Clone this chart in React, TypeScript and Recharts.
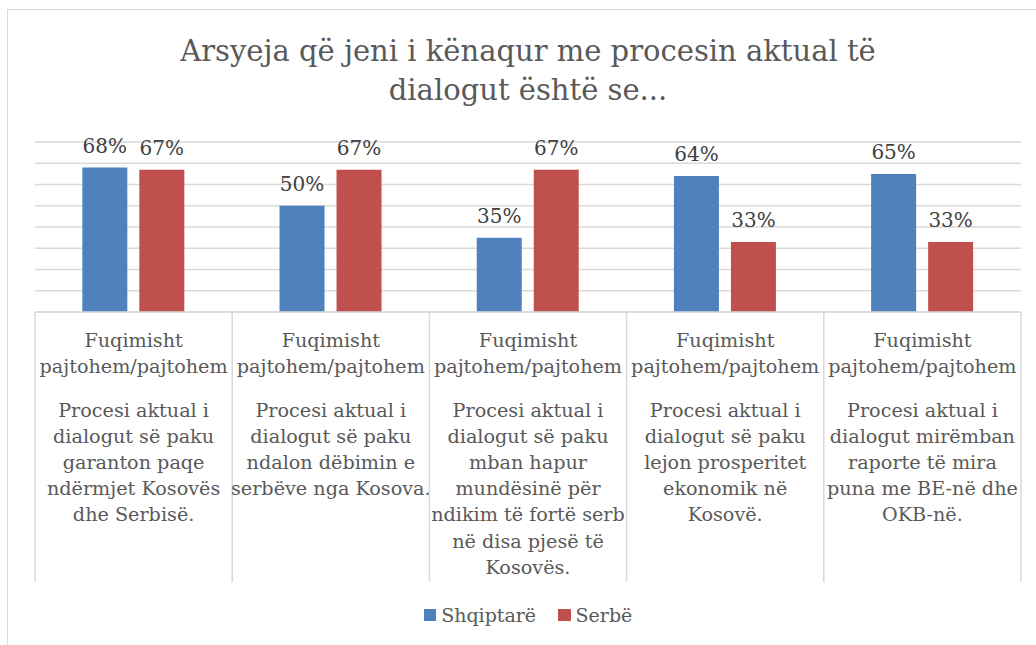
import React from 'react';
import { BarChart, Bar, XAxis, YAxis, CartesianGrid, Legend, LabelList } from 'recharts';

const innerLabel = ['Fuqimisht', 'pajtohem/pajtohem'];

const statements = [
  ['Procesi aktual i', 'dialogut së paku', 'garanton paqe', 'ndërmjet Kosovës', 'dhe Serbisë.'],
  ['Procesi aktual i', 'dialogut së paku', 'ndalon dëbimin e', 'serbëve nga Kosova.'],
  ['Procesi aktual i', 'dialogut së paku', 'mban hapur', 'mundësinë për', 'ndikim të fortë serb', 'në disa pjesë të', 'Kosovës.'],
  ['Procesi aktual i', 'dialogut së paku', 'lejon prosperitet', 'ekonomik në', 'Kosovë.'],
  ['Procesi aktual i', 'dialogut mirëmban', 'raporte të mira', 'puna me BE-në dhe', 'OKB-në.'],
];

const shqiptare = [68, 50, 35, 64, 65];
const serbe = [67, 67, 67, 33, 33];
const yTicks = [0, 10, 20, 30, 40, 50, 60, 70, 80];

const categories = statements.map((s) => s.join(' '));
const data = categories.map((c, i) => ({ category: c, shqiptare: shqiptare[i], serbe: serbe[i] }));

const W = 1036;
const H = 645;
const MARGIN = { top: 142, right: 15, bottom: 0, left: 35 };
const AXIS_H = 270;
const BAND = (W - MARGIN.left - MARGIN.right) / categories.length;
const FONT = '"DejaVu Serif", serif';
const GRID = '#d9d9d9';

const CategoryTick = (props: any) => {
  const { x, y, payload } = props;
  const idx = categories.indexOf(payload.value);
  const lines = statements[idx] || [];
  const half = BAND / 2;
  return (
    <g>
      <line x1={x - half} y1={y} x2={x - half} y2={y + AXIS_H} stroke={GRID} strokeWidth={1.5} />
      {idx === categories.length - 1 && (
        <line x1={x + half} y1={y} x2={x + half} y2={y + AXIS_H} stroke={GRID} strokeWidth={1.5} />
      )}
      <text textAnchor="middle" fontFamily={FONT} fontSize={19.2} fill="#595959">
        {innerLabel.map((l, i) => (
          <tspan key={'i' + i} x={x} y={y + 35 + i * 26.3}>{l}</tspan>
        ))}
        {lines.map((l, i) => (
          <tspan key={'s' + i} x={x} y={y + 104.5 + i * 26.2}>{l}</tspan>
        ))}
      </text>
    </g>
  );
};

const LegendContent = () => (
  <div style={{ height: 63, display: 'flex', justifyContent: 'center', alignItems: 'flex-start', paddingTop: 21, boxSizing: 'border-box', fontFamily: FONT, fontSize: 19, color: '#595959', lineHeight: '24px' }}>
    {[{ name: 'Shqiptarë', color: '#4F81BD' }, { name: 'Serbë', color: '#C0504D' }].map((it, i) => (
      <span key={it.name} style={{ display: 'flex', alignItems: 'center', marginLeft: i ? 22 : 0, fontFamily: FONT }}>
        <span style={{ width: 12.5, height: 12.5, background: it.color, display: 'inline-block', marginRight: 5 }} />
        {it.name}
      </span>
    ))}
  </div>
);

export default function App() {
  return (
    <div style={{ position: 'absolute', left: 0, top: 0, width: W, height: H, background: '#fff' }}>
      <div style={{ position: 'absolute', left: 7, top: 9, right: 0, bottom: 0, borderTop: `1.5px solid ${GRID}`, borderLeft: `1.5px solid ${GRID}` }} />
      <div style={{ position: 'absolute', left: MARGIN.left, width: W - MARGIN.left - MARGIN.right, top: 31.5, textAlign: 'center', fontFamily: FONT, fontSize: 29, lineHeight: '39px', color: '#595959' }}>
        Arsyeja që jeni i kënaqur me procesin aktual të<br />dialogut është se...
      </div>
      <BarChart width={W} height={H} data={data} margin={MARGIN} barCategoryGap="24%" barGap={12} style={{ position: 'absolute', left: 0, top: 0 }}>
        <CartesianGrid vertical={false} stroke={GRID} strokeWidth={1.5} />
        <YAxis hide domain={[0, 80]} ticks={yTicks} interval={0} />
        <XAxis dataKey="category" interval={0} height={AXIS_H} tickLine={false} tickSize={0} tickMargin={0} axisLine={{ stroke: GRID, strokeWidth: 1.5 }} tick={<CategoryTick />} />
        <Legend verticalAlign="bottom" content={<LegendContent />} />
        <Bar dataKey="shqiptare" name="Shqiptarë" fill="#4F81BD" isAnimationActive={false}>
          <LabelList dataKey="shqiptare" position="top" offset={15} formatter={(v: any) => `${v}%`} fontFamily={FONT} fontSize={20} fill="#404040" />
        </Bar>
        <Bar dataKey="serbe" name="Serbë" fill="#C0504D" isAnimationActive={false}>
          <LabelList dataKey="serbe" position="top" offset={15} formatter={(v: any) => `${v}%`} fontFamily={FONT} fontSize={20} fill="#404040" />
        </Bar>
      </BarChart>
    </div>
  );
}
